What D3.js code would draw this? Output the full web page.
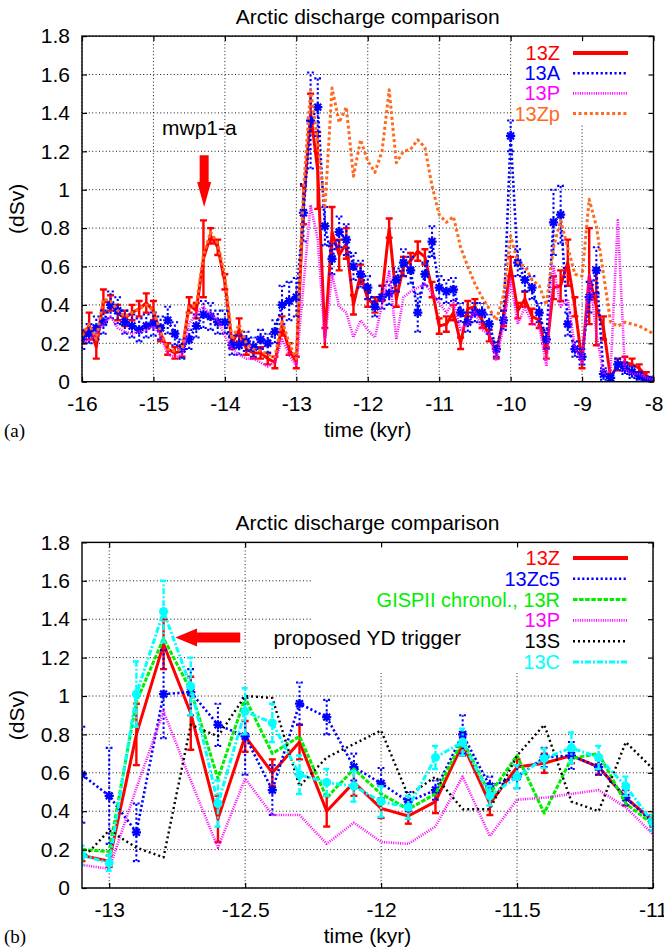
<!DOCTYPE html>
<html><head><meta charset="utf-8">
<script src="https://cdn.jsdelivr.net/npm/d3@7"></script>
<style>
body{margin:0;background:#fff}
svg{display:block;background:#fff}
text{font-family:"Liberation Sans",Arial,Helvetica,sans-serif}
</style></head><body>
<svg id="c" width="664" height="951"></svg>
<script>
// ---------- Panel (a) data ----------
const timeA = [-16,-15.9,-15.8,-15.7,-15.6,-15.5,-15.4,-15.3,-15.2,-15.1,
-15,-14.9,-14.8,-14.7,-14.6,-14.5,-14.4,-14.3,-14.2,-14.1,
-14,-13.9,-13.8,-13.7,-13.6,-13.5,-13.4,-13.3,-13.2,-13.1,
-13,-12.9,-12.8,-12.7,-12.6,-12.5,-12.4,-12.3,-12.2,-12.1,
-12,-11.9,-11.8,-11.7,-11.6,-11.5,-11.4,-11.3,-11.2,-11.1,
-11,-10.9,-10.8,-10.7,-10.6,-10.5,-10.4,-10.3,-10.2,-10.1,
-10,-9.9,-9.8,-9.7,-9.6,-9.5,-9.4,-9.3,-9.2,-9.1,
-9,-8.9,-8.8,-8.7,-8.6,-8.5,-8.4,-8.3,-8.2,-8.1,-8];
const a13Z = [0.23,0.29,0.18,0.42,0.41,0.36,0.33,0.36,0.38,0.41,
0.37,0.25,0.17,0.15,0.16,0.40,0.37,0.64,0.76,0.70,
0.52,0.20,0.27,0.17,0.15,0.15,0.12,0.10,0.29,0.17,
0.10,0.92,1.40,1.10,0.23,0.78,0.66,0.72,0.40,0.56,
0.43,0.40,0.46,0.80,0.43,0.60,0.63,0.68,0.65,0.48,
0.29,0.30,0.36,0.20,0.38,0.39,0.32,0.24,0.15,0.33,
0.60,0.37,0.43,0.34,0.32,0.15,0.49,0.50,0.62,0.39,
0.10,0.55,0.39,0.28,0.02,0.09,0.10,0.09,0.07,0.03,0.01];
const a13ZErr = [0.03,0.07,0.06,0.06,0.04,0.04,0.04,0.04,0.04,0.05,
0.05,0.04,0.03,0.03,0.03,0.04,0.04,0.20,0.04,0.04,
0.04,0.03,0.06,0.03,0.03,0.03,0.03,0.03,0.05,0.03,
0.03,0.10,0.10,0.20,0.05,0.13,0.08,0.08,0.05,0.05,
0.04,0.04,0.04,0.05,0.04,0.05,0.04,0.05,0.04,0.04,
0.04,0.04,0.04,0.03,0.04,0.04,0.04,0.03,0.03,0.04,
0.05,0.04,0.04,0.04,0.04,0.03,0.06,0.08,0.12,0.05,
0.03,0.25,0.20,0.06,0.02,0.03,0.03,0.03,0.02,0.02,0.01];
const a13A = [0.22,0.25,0.28,0.31,0.40,0.37,0.31,0.29,0.27,0.29,
0.30,0.28,0.32,0.25,0.17,0.22,0.29,0.35,0.34,0.31,
0.31,0.19,0.19,0.21,0.18,0.22,0.20,0.26,0.40,0.42,
0.44,0.88,1.36,1.43,0.81,0.64,0.78,0.74,0.60,0.56,
0.49,0.39,0.44,0.46,0.53,0.62,0.58,0.36,0.56,0.73,
0.49,0.47,0.48,0.36,0.31,0.36,0.36,0.30,0.17,0.32,
1.28,0.62,0.53,0.49,0.36,0.22,0.83,0.87,0.30,0.17,
0.13,0.44,0.58,0.04,0.02,0.09,0.07,0.05,0.03,0.01,0.01];
const a13AErr = [0.05,0.05,0.06,0.06,0.07,0.07,0.06,0.06,0.06,0.06,
0.06,0.06,0.07,0.06,0.05,0.05,0.06,0.07,0.07,0.06,
0.06,0.05,0.05,0.05,0.05,0.05,0.05,0.06,0.10,0.10,
0.10,0.15,0.25,0.15,0.10,0.08,0.08,0.08,0.07,0.07,
0.06,0.05,0.06,0.06,0.06,0.07,0.07,0.10,0.06,0.08,
0.06,0.06,0.06,0.05,0.05,0.05,0.05,0.05,0.04,0.05,
0.08,0.07,0.06,0.06,0.05,0.05,0.17,0.15,0.06,0.04,
0.04,0.08,0.12,0.03,0.02,0.03,0.03,0.03,0.02,0.01,0.01];
const a13P = [0.20,0.22,0.25,0.30,0.34,0.28,0.26,0.25,0.26,0.27,
0.29,0.24,0.14,0.13,0.14,0.30,0.36,0.39,0.35,0.32,
0.24,0.17,0.14,0.12,0.12,0.10,0.08,0.10,0.22,0.14,
0.08,0.50,0.92,0.74,0.21,0.56,0.39,0.36,0.23,0.32,
0.27,0.23,0.40,0.58,0.22,0.44,0.47,0.49,0.51,0.46,
0.41,0.36,0.41,0.27,0.30,0.37,0.27,0.25,0.11,0.29,
0.53,0.30,0.39,0.30,0.29,0.08,0.60,0.39,0.43,0.18,
0.10,0.56,0.25,0.04,0.06,0.84,0.06,0.04,0.04,0.02,0.01];
const a13Zp = [0.24,0.30,0.22,0.43,0.42,0.37,0.34,0.36,0.38,0.40,
0.37,0.26,0.17,0.16,0.17,0.39,0.40,0.66,0.78,0.72,
0.55,0.22,0.30,0.20,0.17,0.16,0.14,0.13,0.32,0.20,
0.12,1.00,1.52,1.25,0.90,1.53,1.35,1.43,1.07,1.26,
1.15,1.09,1.20,1.52,1.14,1.20,1.21,1.26,1.22,1.02,
0.87,0.83,0.86,0.70,0.60,0.51,0.44,0.38,0.32,0.45,
0.76,0.62,0.60,0.53,0.50,0.40,0.70,0.84,0.70,0.56,
0.55,0.95,0.81,0.56,0.31,0.29,0.31,0.30,0.29,0.27,0.25];

// ---------- Panel (b) data ----------
const timeB = [-13.1,-13,-12.9,-12.8,-12.7,-12.6,-12.5,-12.4,-12.3,-12.2,-12.1,
-12,-11.9,-11.8,-11.7,-11.6,-11.5,-11.4,-11.3,-11.2,-11.1,-11];
const b13Z = [0.17,0.14,0.80,1.27,0.91,0.36,0.79,0.60,0.76,0.40,0.55,0.415,0.375,0.45,0.75,0.44,0.63,0.65,0.69,0.63,0.47,0.35];
const b13ZErr = [0.03,0.03,0.16,0.13,0.19,0.12,0.08,0.07,0.09,0.08,0.07,0.05,0.04,0.06,0.06,0.06,0.04,0.05,0.04,0.04,0.04,0.03];
const b13Zc5 = [0.59,0.48,0.29,1.01,1.02,0.85,0.79,0.51,0.96,0.89,0.63,0.545,0.45,0.51,0.80,0.53,0.58,0.68,0.69,0.63,0.47,0.34];
const b13Zc5Err = [0.25,0.25,0.15,0.23,0.12,0.11,0.20,0.13,0.11,0.09,0.07,0.08,0.05,0.05,0.10,0.05,0.06,0.05,0.07,0.04,0.04,0.04];
const b13R = [0.20,0.19,0.97,1.30,1.03,0.57,0.99,0.70,0.79,0.47,0.62,0.49,0.41,0.49,0.77,0.49,0.69,0.39,0.675,0.70,0.44,0.33];
const b13P = [0.12,0.10,0.52,0.92,0.56,0.21,0.57,0.38,0.38,0.23,0.34,0.24,0.23,0.32,0.58,0.27,0.46,0.47,0.49,0.51,0.42,0.28];
const b13S = [0.15,0.30,0.21,0.16,0.85,0.79,1.00,0.99,0.53,0.68,0.75,0.82,0.48,0.58,0.41,0.41,0.69,0.85,0.45,0.40,0.76,0.62];
const b13C = [0.17,0.13,1.01,1.44,1.05,0.44,0.92,0.86,0.59,0.55,0.53,0.45,0.42,0.68,0.76,0.48,0.58,0.675,0.73,0.68,0.53,0.34];
const b13CErr = [0.05,0.04,0.17,0.16,0.15,0.12,0.12,0.10,0.10,0.07,0.08,0.08,0.06,0.06,0.07,0.05,0.06,0.05,0.08,0.06,0.05,0.04];

// ---------- ticks / labels ----------
const xTicksA = [-16,-15,-14,-13,-12,-11,-10,-9,-8];
const xTicksB = [-13,-12.5,-12,-11.5,-11];
const yTicks = [0,0.2,0.4,0.6,0.8,1,1.2,1.4,1.6,1.8];
const titleText = "Arctic discharge comparison";
const xTitle = "time (kyr)";
const yTitle = "(dSv)";

// ---------- drawing ----------
const svg = d3.select("#c");
const FS = 21;
const KFS = 20;
const defs = svg.append("defs");

const ST = {
  red:    {color:"#ff0000", w:3,   dash:null},
  blue:   {color:"#0000ff", w:2.6, dash:"2.2,2.4"},
  mag:    {color:"#ff00ff", w:2.6, dash:"1,1.3"},
  orange: {color:"#ff6a1f", w:3,   dash:"3,2.6"},
  green:  {color:"#00ee00", w:3,   dash:"4.5,1.6"},
  black:  {color:"#000000", w:2.4, dash:"2,3"},
  cyan:   {color:"#00ffff", w:3,   dash:"6,2,2,2"}
};

function drawPanel(o){
  const x = o.x, y = o.y;
  const [x0,x1] = x.range();
  const yb = y(0), yt = y(1.8);
  const g = svg.append("g");
  defs.append("clipPath").attr("id","clip"+o.id).append("rect")
    .attr("x",x0).attr("y",yt).attr("width",x1-x0).attr("height",yb-yt);

  // grid
  const grid = g.append("g").attr("stroke","#000").attr("stroke-width",0.9).attr("stroke-dasharray","1,2.4");
  o.xTicks.forEach(t=>grid.append("line").attr("x1",x(t)).attr("x2",x(t)).attr("y1",yb).attr("y2",yt));
  yTicks.forEach(t=>grid.append("line").attr("x1",x0).attr("x2",x1).attr("y1",y(t)).attr("y2",y(t)));

  // key box (clears grid)
  g.append("rect").attr("x",o.keyLeft).attr("y",yt).attr("width",x1-o.keyLeft).attr("height",o.keyBottom-yt).attr("fill","#fff");

  // series
  const plot = g.append("g").attr("clip-path",`url(#clip${o.id})`);
  o.series.forEach(s=>{
    const st = ST[s.style];
    const pts = s.t.map((t,i)=>({t, v:s.v[i], e: s.err ? s.err[i] : null}));
    const sg = plot.append("g");
    if (s.err){
      const eg = sg.append("g").attr("stroke",st.color).attr("stroke-width",s.ebw||st.w*0.8)
        .attr("stroke-dasharray",st.dash);
      pts.forEach(p=>{
        const cx = x(p.t), ylo = y(p.v-p.e), yhi = y(p.v+p.e);
        eg.append("line").attr("x1",cx).attr("x2",cx).attr("y1",ylo).attr("y2",yhi);
        eg.append("line").attr("x1",cx-3.5).attr("x2",cx+3.5).attr("y1",ylo).attr("y2",ylo).attr("stroke-dasharray",null);
        eg.append("line").attr("x1",cx-3.5).attr("x2",cx+3.5).attr("y1",yhi).attr("y2",yhi).attr("stroke-dasharray",null);
      });
    }
    sg.append("path").datum(pts)
      .attr("d",d3.line().x(p=>x(p.t)).y(p=>y(p.v)))
      .attr("fill","none").attr("stroke",st.color).attr("stroke-width",st.w)
      .attr("stroke-dasharray",st.dash).attr("stroke-linejoin","round");
    if (s.marker==="star"){
      const mg = sg.append("g").attr("stroke",st.color).attr("stroke-width",2.2);
      pts.forEach(p=>{
        const cx=x(p.t), cy=y(p.v), r=4.6;
        mg.append("path").attr("d",`M${cx-r},${cy}H${cx+r}M${cx},${cy-r}V${cy+r}M${cx-r*0.75},${cy-r*0.75}L${cx+r*0.75},${cy+r*0.75}M${cx-r*0.75},${cy+r*0.75}L${cx+r*0.75},${cy-r*0.75}`);
      });
    } else if (s.marker==="circle"){
      const mg = sg.append("g").attr("fill",st.color);
      pts.forEach(p=>mg.append("circle").attr("cx",x(p.t)).attr("cy",y(p.v)).attr("r",4.5));
    }
  });

  // border
  g.append("rect").attr("x",x0).attr("y",yt).attr("width",x1-x0).attr("height",yb-yt)
    .attr("fill","none").attr("stroke","#000").attr("stroke-width",1.4);

  const style = sel=>{
    sel.select(".domain").remove();
    sel.selectAll(".tick line").attr("stroke","#000").attr("stroke-width",1.2);
    sel.selectAll("text").attr("font-size",FS).attr("font-family","Liberation Sans, Arial, sans-serif").attr("fill","#000");
    sel.attr("font-size",null).attr("font-family",null);
  };
  const fmt = d=>String(d);
  g.append("g").attr("transform",`translate(0,${yb})`)
    .call(d3.axisBottom(x).tickValues(o.xTicks).tickFormat(fmt).tickSizeInner(-5).tickSizeOuter(0).tickPadding(14)).call(style);
  g.append("g").attr("transform",`translate(0,${yt})`)
    .call(d3.axisTop(x).tickValues(o.xTicks).tickFormat("").tickSizeInner(-5).tickSizeOuter(0)).call(style);
  g.append("g").attr("transform",`translate(${x0},0)`)
    .call(d3.axisLeft(y).tickValues(yTicks).tickFormat(fmt).tickSizeInner(-5).tickSizeOuter(0).tickPadding(12)).call(style);
  g.append("g").attr("transform",`translate(${x1},0)`)
    .call(d3.axisRight(y).tickValues(yTicks).tickFormat("").tickSizeInner(-5).tickSizeOuter(0)).call(style);

  // titles
  const cx = (x0+x1)/2;
  g.append("text").attr("x",cx).attr("y",o.titleY).attr("text-anchor","middle").attr("font-size",FS).text(titleText);
  g.append("text").attr("x",cx).attr("y",o.xTitleY).attr("text-anchor","middle").attr("font-size",FS).text(xTitle);
  g.append("text").attr("transform",`translate(24,${(yb+yt)/2}) rotate(-90)`).attr("text-anchor","middle").attr("font-size",FS).text(yTitle);
  g.append("text").attr("x",4).attr("y",o.xTitleY).attr("font-size",19)
    .style("font-family","'Liberation Serif','Times New Roman',serif").text(o.tag);

  // legend
  o.series.forEach((s,i)=>{
    const st = ST[s.style];
    const ry = o.keyTop + i*o.keyStep;
    g.append("text").attr("x",560).attr("y",ry).attr("dy","0.35em").attr("text-anchor","end")
      .attr("font-size",KFS).attr("fill",st.color).text(s.name);
    g.append("line").attr("x1",573).attr("x2",628).attr("y1",ry).attr("y2",ry)
      .attr("stroke",st.color).attr("stroke-width",s.style==="red"?4:st.w).attr("stroke-dasharray",st.dash);
  });
  return g;
}

// Panel (a)
const xA = d3.scaleLinear().domain([-16,-8]).range([82,653.5]);
const yA = d3.scaleLinear().domain([0,1.8]).range([381.7,36.1]);
const gA = drawPanel({
  id:"A", x:xA, y:yA, xTicks:xTicksA, titleY:24, xTitleY:437, tag:"(a)",
  keyLeft:513, keyBottom:124, keyTop:53, keyStep:20.2,
  series:[
    {name:"13Z",  t:timeA, v:a13Z,  err:a13ZErr, style:"red", ebw:2.4},
    {name:"13A",  t:timeA, v:a13A,  err:a13AErr, style:"blue", marker:"star"},
    {name:"13P",  t:timeA, v:a13P,  style:"mag"},
    {name:"13Zp", t:timeA, v:a13Zp, style:"orange"}
  ]
});
// mwp1-a annotation
const arrowA = {t:-14.29, top:1.18, neck:1.04, tip:0.91};
gA.append("path").attr("fill","#ff0000").attr("d",
  `M${xA(arrowA.t)-4.5},${yA(arrowA.top)}H${xA(arrowA.t)+4.5}V${yA(arrowA.neck)}H${xA(arrowA.t)+7}L${xA(arrowA.t)},${yA(arrowA.tip)}L${xA(arrowA.t)-7},${yA(arrowA.neck)}H${xA(arrowA.t)-4.5}Z`);
gA.append("text").attr("x",xA(-14.88)).attr("y",yA(1.285)).attr("font-size",FS).text("mwp1-a");

// Panel (b)
const xB = d3.scaleLinear().domain([-13.1,-11]).range([82,653]);
const yB = d3.scaleLinear().domain([0,1.8]).range([888,542.4]);
const gB = drawPanel({
  id:"B", x:xB, y:yB, xTicks:xTicksB, titleY:530, xTitleY:943, tag:"(b)",
  keyLeft:313, keyBottom:673, keyTop:558, keyStep:20.8,
  series:[
    {name:"13Z", t:timeB, v:b13Z, err:b13ZErr, style:"red", ebw:2.4},
    {name:"13Zc5", t:timeB, v:b13Zc5, err:b13Zc5Err, style:"blue", marker:"star"},
    {name:"GISPII chronol., 13R", t:timeB, v:b13R, style:"green"},
    {name:"13P", t:timeB, v:b13P, style:"mag"},
    {name:"13S", t:timeB, v:b13S, style:"black"},
    {name:"13C", t:timeB, v:b13C, err:b13CErr, style:"cyan", marker:"circle"}
  ]
});
const arrowB = {y:1.305, tail:-12.518, neck:-12.677, tip:-12.757};
gB.append("path").attr("fill","#ff0000").attr("d",
  `M${xB(arrowB.tail)},${yB(arrowB.y)-5}V${yB(arrowB.y)+5}H${xB(arrowB.neck)}V${yB(arrowB.y)+9}L${xB(arrowB.tip)},${yB(arrowB.y)}L${xB(arrowB.neck)},${yB(arrowB.y)-9}V${yB(arrowB.y)-5}Z`);
gB.append("text").attr("x",xB(-12.396)).attr("y",yB(1.266)).attr("font-size",FS).text("proposed YD trigger");
</script>
</body></html>
